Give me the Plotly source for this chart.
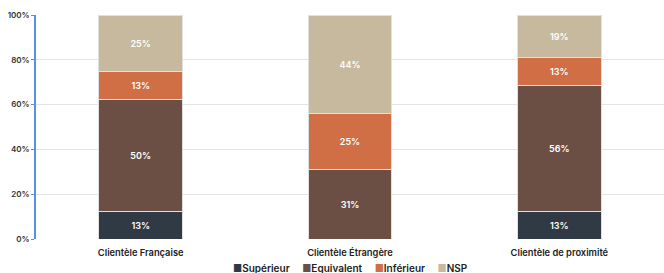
import plotly.graph_objects as go

categories = ["Clientèle Française", "Clientèle Étrangère", "Clientèle de proximité"]
series_names = ["Supérieur", "Equivalent", "Inférieur", "NSP"]
superieur = [12.5, 0, 12.5]
equivalent = [50, 31.25, 56.25]
inferieur = [12.5, 25, 12.5]
nsp = [25, 43.75, 18.75]
tick_vals = [0, 20, 40, 60, 80, 100]
tick_text = ["0%", "20%", "40%", "60%", "80%", "100%"]

colors = ["#2f3a44", "#6b4f44", "#d06e45", "#c6b99e"]
values = [superieur, equivalent, inferieur, nsp]

FONT = "Inter"
fig = go.Figure()
for name, vals, col in zip(series_names, values, colors):
    fig.add_trace(go.Bar(
        x=categories, y=vals, name=name,
        marker=dict(color=col, line=dict(color="#e0e0e0", width=1)),
        texttemplate=["%{y:.0f}%" if v > 0 else "" for v in vals],
        textposition="inside", insidetextanchor="middle",
        textfont=dict(color="white", size=9, family=FONT, weight=600),
        hoverinfo="skip", showlegend=False,
    ))

legend_text = "&nbsp;&nbsp;&nbsp;&nbsp;&nbsp;".join(
    f"<span style='color:{c}'>■</span>{n}" for n, c in zip(series_names, colors)
)
fig.add_annotation(text=legend_text, xref="paper", yref="paper", x=0.5, y=-0.13,
                   xanchor="center", yanchor="middle", showarrow=False,
                   font=dict(size=10, color="#222", family=FONT, weight=600))

fig.update_layout(
    barmode="stack", bargap=0.6,
    width=664, height=273,
    margin=dict(l=36, r=0, t=15, b=34, autoexpand=False),
    plot_bgcolor="white", paper_bgcolor="white",
    font=dict(family=FONT, color="#333"),
    showlegend=False,
    uniformtext=dict(minsize=8, mode="show"),
)
fig.update_xaxes(showline=False, automargin=False,
                 tickfont=dict(size=9.3, color="#222", family=FONT, weight=600),
                 ticks="outside", ticklen=5, tickcolor="rgba(0,0,0,0)", showgrid=False)
fig.update_yaxes(range=[0, 100], tickvals=tick_vals, ticktext=tick_text, automargin=False,
                 showline=True, linecolor="#5b8ee0", linewidth=1.5,
                 ticks="outside", ticklen=3, tickcolor="#5b8ee0",
                 showgrid=True, gridcolor="#e4e4e4", gridwidth=1,
                 tickfont=dict(size=8, color="#333", family=FONT, weight=600), zeroline=False)
fig.write_html("out.html", config={"displayModeBar": False},
               post_script="document.body.style.margin='0';document.body.style.overflow='hidden';")
